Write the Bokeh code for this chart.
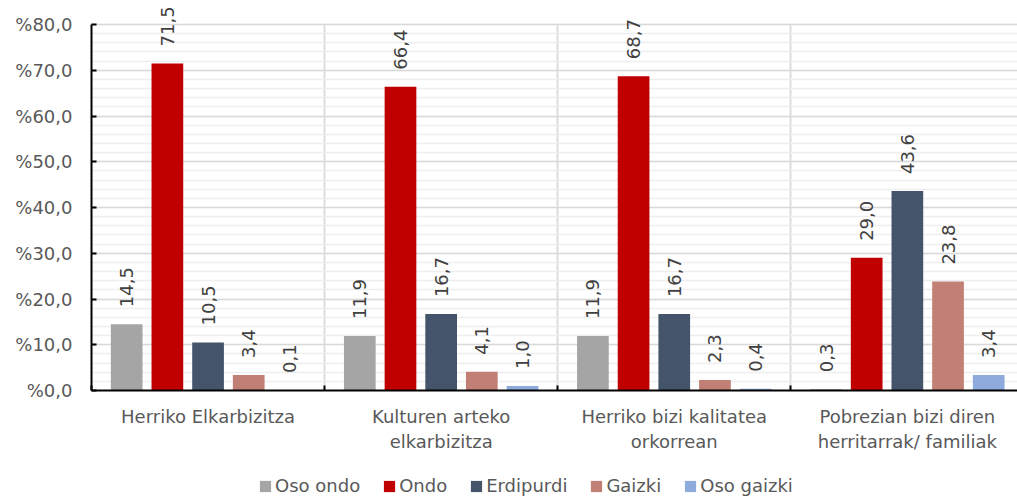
from math import pi
from bokeh.plotting import figure
from bokeh.layouts import column
from bokeh.models import (Range1d, FixedTicker, LinearAxis, Legend, LegendItem,
                          ColumnDataSource)
from bokeh.transform import dodge
from bokeh.core.properties import value
from bokeh.embed import file_html
from bokeh.resources import INLINE

# ---------------- data ----------------
categories = ["Herriko Elkarbizitza", "Kulturen arteko\nelkarbizitza",
              "Herriko bizi kalitatea\norkorrean", "Pobrezian bizi diren\nherritarrak/ familiak"]
series_names = ["Oso ondo", "Ondo", "Erdipurdi", "Gaizki", "Oso gaizki"]
oso_ondo = [14.5, 11.9, 11.9, 0.3]
ondo = [71.5, 66.4, 68.7, 29.0]
erdipurdi = [10.5, 16.7, 16.7, 43.6]
gaizki = [3.4, 4.1, 2.3, 23.8]
oso_gaizki = [0.1, 1.0, 0.4, 3.4]
y_ticks = [0, 10, 20, 30, 40, 50, 60, 70, 80]
y_tick_labels = ["%0,0", "%10,0", "%20,0", "%30,0", "%40,0", "%50,0", "%60,0", "%70,0", "%80,0"]

series_values = [oso_ondo, ondo, erdipurdi, gaizki, oso_gaizki]
colors = ["#A5A5A5", "#C00000", "#44546A", "#C17F75", "#8FAADC"]

FONT = "DejaVu Sans"
TXT = "#595959"
W = 1017
H_MAIN = 469
H_LEG = 30

p = figure(width=W, height=H_MAIN, output_backend="svg", toolbar_location=None,
           x_range=Range1d(0, 3.9725), y_range=Range1d(0, 85.25),
           min_border_left=91, min_border_right=0, min_border_top=0,
           min_border_bottom=79)
p.outline_line_color = None
p.background_fill_color = "white"
p.border_fill_color = "white"

cat_centers = [i + 0.5 for i in range(len(categories))]
bar_step = 0.1745
bar_w = 0.136

sources = []
for k, (name, vals, col) in enumerate(zip(series_names, series_values, colors)):
    src = ColumnDataSource(dict(
        x=cat_centers, v=vals,
        lbl=[f"{v:.1f}".replace(".", ",") for v in vals]))
    sources.append(src)
    off = (k - 2) * bar_step
    p.vbar(x=dodge("x", off, range=p.x_range), top="v", width=bar_w, bottom=0,
           source=src, fill_color=col, line_color=None)
    p.text(x=dodge("x", off, range=p.x_range), y="v", text="lbl", source=src,
           angle=pi / 2, text_align="left", text_baseline="middle", y_offset=-17,
           text_font=value(FONT), text_font_size="18px", text_color="#404040")

# y axis
yt = FixedTicker(ticks=y_ticks, minor_ticks=list(range(0, 81, 2)))
p.yaxis.ticker = yt
p.yaxis.bounds = (0, 80)
p.yaxis.major_label_overrides = {t: l for t, l in zip(y_ticks, y_tick_labels)}
p.yaxis.major_tick_in = 5
p.yaxis.major_tick_out = 0
p.yaxis.minor_tick_line_color = None
p.yaxis.axis_line_width = 2
p.yaxis.axis_line_color = "black"
p.yaxis.major_tick_line_width = 2
p.yaxis.major_label_standoff = 15
p.yaxis.major_label_text_font = FONT
p.yaxis.major_label_text_font_size = "18px"
p.yaxis.major_label_text_color = TXT

p.ygrid.grid_line_color = "#d9d9d9"
p.ygrid.grid_line_width = 1.5
p.ygrid.minor_grid_line_color = "#eeeeee"
p.ygrid.minor_grid_line_width = 1.5

# x axis: boundary ticks only
xb = FixedTicker(ticks=[0, 1, 2, 3, 4])
p.xaxis.ticker = xb
p.xaxis.major_tick_in = 5
p.xaxis.major_tick_out = 0
p.xaxis.minor_tick_line_color = None
p.xaxis.axis_line_width = 2
p.xaxis.axis_line_color = "black"
p.xaxis.major_tick_line_width = 2
p.xaxis.major_label_text_font_size = "1px"
p.xaxis.major_label_standoff = 0
p.xaxis.major_label_overrides = {0: "", 1: "", 2: "", 3: "", 4: ""}

p.xgrid.ticker = xb
p.xgrid.grid_line_color = "#dcdcdc"
p.xgrid.grid_line_width = 2
p.xgrid.cross_bounds = (0, 80)

# category label axis
lab_axis = LinearAxis(ticker=FixedTicker(ticks=cat_centers),
                      major_label_overrides={c: n for c, n in zip(cat_centers, categories)})
lab_axis.axis_line_color = None
lab_axis.major_tick_line_color = None
lab_axis.minor_tick_line_color = None
lab_axis.major_label_standoff = 9
lab_axis.major_label_text_font = FONT
lab_axis.major_label_text_font_size = "18px"
lab_axis.major_label_text_color = TXT
p.add_layout(lab_axis, "below")

# ---------------- legend strip ----------------
lg = figure(width=W, height=H_LEG, output_backend="svg", toolbar_location=None,
            x_range=Range1d(0, 1), y_range=Range1d(0, 1),
            min_border_left=0, min_border_right=0, min_border_top=0, min_border_bottom=0)
lg.axis.visible = False
lg.grid.visible = False
lg.outline_line_color = None
lg.border_fill_color = "white"

items = []
for name, col, src in zip(series_names, colors, sources):
    r = lg.vbar(x="x", top="v", width=0.1, source=src, fill_color=col,
                line_color=None, visible=False)
    items.append(LegendItem(label=name, renderers=[r]))

legend = Legend(items=items, orientation="horizontal", location=(167, 3),
                glyph_width=14, glyph_height=14, label_standoff=3, spacing=22,
                padding=0, margin=0, border_line_color=None, background_fill_alpha=0,
                label_text_font=FONT, label_text_font_size="18px", label_text_color=TXT)
lg.add_layout(legend, "center")

layout = column(p, lg, spacing=0)
open("out.html", "w").write(file_html(layout, INLINE))
